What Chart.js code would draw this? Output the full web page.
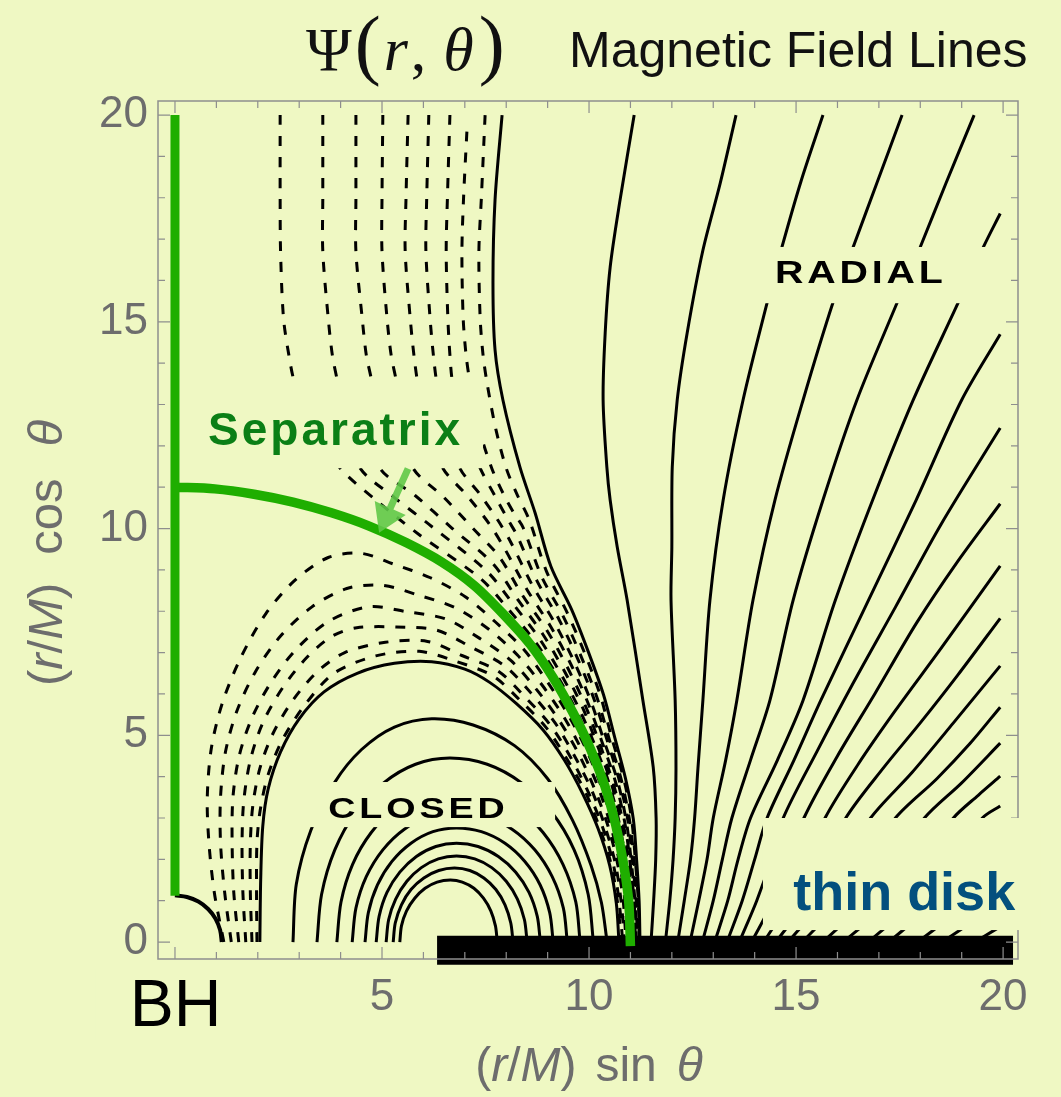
<!DOCTYPE html>
<html>
<head>
<meta charset="utf-8">
<script src="https://cdn.jsdelivr.net/npm/chart.js@4.4.1/dist/chart.umd.min.js"></script>
<style>
  html, body { margin: 0; padding: 0; background: #eff8c3; }
  #wrap { width: 1061px; height: 1097px; }
</style>
</head>
<body>
<div id="wrap"><canvas id="c" width="1061" height="1097"></canvas></div>
<script>
// ---- axis ticks ----
const xTickValues = [0, 5, 10, 15, 20];
const yTickValues = [0, 5, 10, 15, 20];

// ---- separatrix (polar axis + loop), horizon, thin disk ----
const separatrixAxis = [[0, 1.12], [0, 20]];
const separatrixLoop = [[0,11],[0.96,10.96],[1.91,10.83],[2.85,10.64],[3.78,10.38],[4.69,10.06],[5.58,9.66],[6.44,9.19],[7.23,8.62],[7.93,7.93],[8.58,7.2],[9.13,6.4],[9.61,5.55],[10.03,4.68],[10.38,3.78],[10.64,2.85],[10.83,1.91],[10.96,0.96],[11.0,-0.1]];
const horizon = [[0,1.13],[0.29,1.09],[0.565,0.98],[0.8,0.8],[0.98,0.565],[1.09,0.29],[1.13,0]];
const diskSpan = [[6.33,-0.2],[20.24,-0.2]];

// ---- open field lines coming down from the top (dashed) ----
const openDashed = [
  [[2.54,20],[2.54,18],[2.55,16.7],[2.62,15.1],[2.75,14.2],[2.9,13.5],[3.4,12.4],[3.99,11.46],[4.9,10.65],[5.9,9.85],[7.38,8.79],[8.05,8.05],[8.68,7.29],[9.22,6.46],[9.69,5.6],[10.08,4.71],[10.43,3.8],[10.68,2.86],[10.86,1.92],[10.99,0.96],[11.02,0.05]],
  [[3.57,20],[3.57,18],[3.57,16.7],[3.7,15.1],[3.8,14.2],[3.94,13.5],[4.2,12.4],[4.47,11.46],[5.3,10.75],[6.2,10.05],[7.53,8.97],[8.17,8.17],[8.78,7.37],[9.3,6.52],[9.76,5.64],[10.15,4.74],[10.49,3.82],[10.73,2.88],[10.89,1.92],[11.01,0.96],[11.05,0.05]],
  [[4.37,20],[4.37,18],[4.37,16.7],[4.52,15.1],[4.62,14.2],[4.76,13.5],[4.85,12.4],[4.95,11.46],[5.8,10.8],[6.7,10.0],[7.68,9.15],[8.28,8.28],[8.88,7.45],[9.39,6.58],[9.84,5.68],[10.2,4.76],[10.54,3.83],[10.77,2.89],[10.93,1.93],[11.04,0.96],[11.07,0.05]],
  [[5.02,20],[5.0,18],[5.0,16.7],[5.12,15.1],[5.22,14.2],[5.36,13.5],[5.55,12.4],[5.75,11.46],[6.5,10.75],[7.2,10.0],[7.83,9.32],[8.39,8.39],[8.98,7.54],[9.48,6.64],[9.91,5.72],[10.26,4.79],[10.58,3.85],[10.82,2.9],[10.96,1.94],[11.06,0.97],[11.09,0.05]],
  [[5.63,20],[5.58,18],[5.56,16.7],[5.68,15.1],[5.77,14.2],[5.87,13.5],[6.15,12.4],[6.47,11.46],[7.05,10.8],[7.6,10.1],[7.97,9.5],[8.51,8.51],[9.08,7.62],[9.57,6.7],[9.98,5.77],[10.32,4.82],[10.64,3.87],[10.86,2.91],[10.99,1.94],[11.09,0.97],[11.12,0.05]],
  [[6.13,20],[6.08,18],[6.06,16.7],[6.16,15.1],[6.24,14.2],[6.33,13.5],[6.6,12.4],[6.88,11.46],[7.35,10.85],[7.8,10.2],[8.11,9.67],[8.63,8.63],[9.18,7.7],[9.65,6.76],[10.05,5.81],[10.37,4.84],[10.69,3.89],[10.9,2.92],[11.02,1.95],[11.11,0.97],[11.14,0.05]],
  [[6.64,20],[6.58,18],[6.55,16.7],[6.59,15.1],[6.64,14.2],[6.71,13.5],[7.0,12.4],[7.37,11.46],[7.75,10.75],[8.05,10.2],[8.26,9.84],[8.74,8.74],[9.28,7.79],[9.74,6.82],[10.13,5.85],[10.44,4.87],[10.73,3.91],[10.94,2.93],[11.05,1.95],[11.14,0.97],[11.16,0.05]],
  [[7.05,19.6],[6.97,18],[6.93,16.7],[6.96,15.1],[7.03,14.2],[7.13,13.5],[7.35,12.4],[7.65,11.46],[7.95,10.8],[8.2,10.35],[8.41,10.02],[8.85,8.85],[9.38,7.87],[9.82,6.88],[10.2,5.89],[10.49,4.9],[10.78,3.92],[10.98,2.94],[11.09,1.96],[11.16,0.97],[11.18,0.05]],
  [[7.49,20],[7.4,18],[7.34,16.7],[7.37,15.1],[7.44,14.2],[7.54,13.5],[7.75,12.4],[8.0,11.46],[8.25,10.85],[8.56,10.2],[8.97,8.97],[9.48,7.95],[9.91,6.95],[10.28,5.94],[10.55,4.93],[10.84,3.94],[11.03,2.96],[11.12,1.96],[11.19,0.98],[11.21,0.05]]
];

// ---- loops from the horizon region down to the disk (dashed) ----
const loopDashed = [
  [[1.18,0],[0.95,1.2],[0.82,2.4],[0.78,3.5],[0.88,4.7],[1.15,5.8],[1.6,6.9],[2.2,7.95],[2.9,8.75],[3.7,9.3],[4.5,9.4],[5.28,9.14],[6.17,8.81],[7.01,8.35],[7.74,7.74],[8.43,7.07],[8.99,6.3],[9.5,5.49],[9.94,4.64],[10.3,3.75],[10.58,2.83],[10.79,1.91],[10.92,0.95],[10.96,0.05]],
  [[1.36,0],[1.2,1.2],[1.1,2.4],[1.1,3.5],[1.22,4.6],[1.5,5.6],[1.95,6.55],[2.55,7.4],[3.3,8.1],[4.15,8.55],[4.99,8.63],[5.88,8.39],[6.78,8.08],[7.57,7.57],[8.27,6.94],[8.87,6.21],[9.4,5.43],[9.85,4.59],[10.23,3.72],[10.52,2.82],[10.74,1.9],[10.87,0.95],[10.93,0.05]],
  [[1.54,0],[1.42,1.2],[1.38,2.4],[1.4,3.5],[1.55,4.5],[1.85,5.4],[2.3,6.25],[2.9,7.05],[3.7,7.75],[4.69,8.11],[5.59,7.99],[6.55,7.81],[7.35,7.35],[8.11,6.81],[8.73,6.11],[9.28,5.36],[9.75,4.55],[10.14,3.69],[10.46,2.8],[10.69,1.89],[10.83,0.95],[10.89,0.05]],
  [[1.71,0],[1.64,1.2],[1.62,2.4],[1.66,3.4],[1.82,4.4],[2.12,5.3],[2.6,6.15],[3.2,6.9],[3.8,7.4],[4.39,7.6],[5.34,7.62],[6.33,7.54],[7.14,7.14],[7.96,6.68],[8.6,6.02],[9.18,5.3],[9.65,4.5],[10.07,3.66],[10.39,2.78],[10.64,1.88],[10.78,0.94],[10.85,0.05]],
  [[1.86,0],[1.82,1.2],[1.82,2.4],[1.88,3.3],[2.05,4.2],[2.37,5.05],[2.85,5.85],[3.45,6.55],[4.1,7.0],[5.08,7.25],[6.1,7.27],[6.93,6.93],[7.81,6.55],[8.46,5.92],[9.07,5.24],[9.56,4.46],[9.98,3.63],[10.33,2.77],[10.59,1.87],[10.73,0.94],[10.81,0.05]],
  [[1.98,0],[1.97,1.2],[1.98,2.4],[2.06,3.2],[2.25,4.05],[2.6,4.9],[3.15,5.75],[3.84,6.5],[4.85,6.92],[5.9,7.03],[6.75,6.8],[7.67,6.44],[8.34,5.84],[8.97,5.18],[9.47,4.42],[9.92,3.61],[10.26,2.75],[10.54,1.86],[10.69,0.94],[10.78,0.05]]
];

// ---- boundary solid lines on either side of the separatrix ----
const outerBoundary = [[7.9,20],[7.73,17.95],[7.68,15.94],[7.73,14.32],[7.92,13.11],[8.33,11.49],[8.7,10.37],[9.08,9.08],[9.58,8.04],[9.99,7.0],[10.35,5.98],[10.62,4.95],[10.88,3.96],[11.07,2.97],[11.15,1.97],[11.21,0.98],[11.23,0.05]];
const innerBoundary = [[2.05,0],[2.07,1.5],[2.12,2.8],[2.25,3.7],[2.55,4.6],[3.0,5.4],[3.6,6.05],[4.4,6.5],[5.3,6.74],[6.2,6.78],[7.0,6.6],[7.6,6.28],[8.24,5.77],[8.89,5.13],[9.41,4.39],[9.85,3.58],[10.22,2.74],[10.5,1.85],[10.66,0.93],[10.72,0.05]];

// ---- closed loops (solid) ----
const closedLoops = [
  [[2.85,0],[2.93,1.4],[3.28,2.7],[3.85,3.85],[4.5,4.65],[5.3,5.2],[6.2,5.4],[7.2,5.25],[8.2,4.75],[9.0,3.95],[9.6,2.95],[10.05,1.85],[10.3,0.95],[10.43,0.05]],
  [[3.43,0],[3.54,1.15],[3.86,2.23],[4.37,3.15],[5.04,3.85],[5.81,4.3],[6.64,4.45],[7.54,4.3],[8.37,3.85],[9.09,3.15],[9.64,2.23],[9.98,1.15],[10.1,0.05]],
  [[3.91,0],[4.01,0.97],[4.29,1.88],[4.74,2.65],[5.33,3.25],[6.01,3.62],[6.75,3.75],[7.53,3.62],[8.27,3.25],[8.89,2.65],[9.37,1.88],[9.68,0.97],[9.78,0.05]],
  [[4.28,0],[4.37,0.82],[4.62,1.58],[5.02,2.23],[5.54,2.73],[6.15,3.04],[6.8,3.15],[7.49,3.04],[8.14,2.73],[8.69,2.23],[9.11,1.58],[9.38,0.82],[9.47,0.05]],
  [[4.59,0],[4.67,0.71],[4.89,1.38],[5.24,1.95],[5.7,2.39],[6.23,2.67],[6.8,2.76],[7.4,2.67],[7.97,2.39],[8.45,1.95],[8.82,1.38],[9.05,0.71],[9.13,0.05]],
  [[4.86,0],[4.93,0.62],[5.12,1.2],[5.43,1.69],[5.83,2.07],[6.3,2.31],[6.8,2.39],[7.32,2.31],[7.81,2.07],[8.23,1.69],[8.55,1.2],[8.75,0.62],[8.82,0.05]],
  [[5.1,0],[5.16,0.54],[5.33,1.04],[5.6,1.47],[5.95,1.8],[6.36,2.01],[6.8,2.08],[7.24,2.01],[7.65,1.8],[8.0,1.47],[8.27,1.04],[8.44,0.54],[8.5,0.05]],
  [[5.27,0],[5.32,0.46],[5.47,0.9],[5.7,1.27],[6.01,1.55],[6.37,1.73],[6.75,1.79],[7.12,1.73],[7.46,1.55],[7.75,1.27],[7.97,0.9],[8.11,0.46],[8.16,0.05]],
  [[5.43,0],[5.47,0.39],[5.59,0.75],[5.79,1.06],[6.04,1.3],[6.33,1.45],[6.65,1.5],[6.94,1.45],[7.22,1.3],[7.45,1.06],[7.63,0.75],[7.74,0.39],[7.78,0.05]]
];

// ---- radial (open) lines anchored on the disk (solid) ----
const radialLines = [
  [[11.5,0.05],[11.56,1],[11.61,2],[11.62,3],[11.55,4.23],[11.3,5.85],[10.92,8.27],[10.68,9.56],[10.51,10.69],[10.43,11.49],[10.34,13.11],[10.39,14.73],[10.51,16.32],[10.75,17.95],[11.09,20]],
  [[11.85,0.05],[11.95,1],[12.03,2],[12.08,3],[12.1,4.2],[12.08,5.85],[11.98,8.27],[12.0,9.56],[12.01,11.49],[12.13,13.11],[12.37,14.73],[12.75,16.73],[13.17,18.36],[13.55,20]],
  [[12.15,0.05],[12.3,1],[12.45,2],[12.55,3],[12.63,4.2],[12.75,5.85],[12.92,8.27],[13.24,10.69],[13.72,13.11],[14.3,15.46],[14.66,16.81],[15.12,18.4],[15.65,20]],
  [[12.45,0.05],[12.65,1],[12.85,2],[13.0,3],[13.3,4.4],[13.57,5.85],[13.96,8.27],[14.49,10.69],[15.17,13.11],[15.89,15.46],[16.38,16.81],[16.95,18.35],[17.56,20]],
  [[12.75,0.05],[13.0,1],[13.22,2],[13.45,3],[13.9,4.4],[14.37,5.85],[14.93,8.27],[15.65,10.69],[16.47,13.11],[17.44,15.46],[18.0,16.81],[18.62,18.35],[19.3,20]],
  [[13.05,0.05],[13.35,1],[13.6,2],[13.9,3],[14.55,4.4],[15.17,5.85],[15.95,8.27],[16.85,10.69],[17.83,13.11],[18.91,15.45],[19.52,16.8],[19.93,17.62]],
  [[13.35,0.05],[13.7,1],[14.0,2],[14.3,3],[14.95,4.4],[15.6,5.85],[16.75,8.27],[17.9,10.69],[19.0,13.11],[19.93,14.7]],
  [[13.65,0.05],[14.05,1],[14.4,2],[14.69,3],[15.5,4.6],[16.4,6.3],[17.4,8.1],[18.5,10.1],[19.93,12.43]],
  [[13.95,0.05],[14.45,1],[14.85,2],[15.19,3],[16.0,4.5],[16.9,6.0],[17.9,7.7],[18.9,9.2],[19.93,10.6]],
  [[14.25,0.05],[14.85,1],[15.3,2],[15.7,3],[16.5,4.3],[17.4,5.6],[18.5,7.1],[19.93,9.1]],
  [[14.55,0.05],[15.25,1],[15.75,2],[16.2,3],[17.1,4.2],[18.0,5.3],[18.9,6.45],[19.93,7.83]],
  [[14.85,0.05],[15.65,1],[16.25,2],[16.8,3],[17.8,4.1],[18.8,5.3],[19.93,6.68]],
  [[15.2,0.05],[16.1,1],[16.8,2],[17.4,3],[18.4,3.95],[19.2,4.8],[19.93,5.68]],
  [[15.7,0.05],[16.7,1],[17.45,2],[18.1,3],[19.0,3.85],[19.93,4.81]],
  [[16.2,0.05],[17.3,1],[18.1,2],[18.8,3],[19.4,3.55],[19.93,4.01]],
  [[16.8,0.05],[17.9,1],[18.8,2],[19.5,3],[19.93,3.29]],
  [[17.3,0.05],[18.3,0.9],[19.3,1.8],[20.3,2.6]],
  [[18.0,0.05],[19.0,0.8],[20.3,1.7]],
  [[18.6,0.05],[19.5,0.65],[20.3,1.15]],
  [[19.4,0.05],[20.3,0.6]]
];

// ---- styling ----
const BG = '#eff8c3';
const GREEN = '#1fae00';
const GREY = '#6d6d6d';
const SANS = '"Liberation Sans", Arial, sans-serif';
const SERIF = '"Liberation Serif", "DejaVu Serif", serif';

const toXY = pts => pts.map(p => ({ x: p[0], y: p[1] }));
function line(pts, extra) {
  return Object.assign({
    data: toXY(pts), showLine: true, pointRadius: 0, borderColor: '#000',
    borderWidth: 3, fill: false, tension: 0.3, order: 3
  }, extra || {});
}

const datasets = [];
datasets.push(line(separatrixAxis, { borderColor: GREEN, borderWidth: 9, tension: 0, order: 0, borderCapStyle: 'butt' }));
datasets.push(line(separatrixLoop, { borderColor: GREEN, borderWidth: 9.5, order: 0, borderCapStyle: 'butt' }));
datasets.push(line(diskSpan, { borderWidth: 29, tension: 0, order: 1, borderCapStyle: 'butt', clip: false }));
datasets.push(line(horizon, { borderWidth: 4, order: 2 }));
openDashed.forEach(p => datasets.push(line(p, { borderDash: [10, 11], borderWidth: 3 })));
loopDashed.forEach(p => datasets.push(line(p, { borderDash: [10, 11], borderWidth: 3 })));
datasets.push(line(outerBoundary));
datasets.push(line(innerBoundary));
closedLoops.forEach(p => datasets.push(line(p)));
radialLines.forEach(p => datasets.push(line(p)));

// text made of differently styled pieces
function runsWidth(ctx, runs) {
  let w = 0;
  runs.forEach(r => { ctx.font = r.f; w += ctx.measureText(r.t).width + (r.gap || 0); });
  return w;
}
function drawRuns(ctx, runs, x, y) {
  runs.forEach(r => { ctx.font = r.f; ctx.fillText(r.t, x, y); x += ctx.measureText(r.t).width + (r.gap || 0); });
}
// wide caps lettering for the region names
function wideText(ctx, text, x, y, size, stretch, spacing) {
  ctx.save();
  ctx.translate(x, y);
  ctx.scale(stretch, 1);
  ctx.font = 'bold ' + size + 'px ' + SANS;
  ctx.letterSpacing = spacing + 'px';
  ctx.fillText(text, 0, 0);
  ctx.restore();
}

const decor = {
  id: 'decor',
  beforeDraw(chart) {
    const c = chart.ctx;
    c.save(); c.fillStyle = BG; c.fillRect(0, 0, chart.width, chart.height); c.restore();
  },
  afterDatasetsDraw(chart) {
    const { ctx, chartArea: a, scales: { x, y } } = chart;
    const X = v => x.getPixelForValue(v), Y = v => y.getPixelForValue(v);
    ctx.save();

    // frame with inward ticks
    ctx.strokeStyle = '#8e8e8e'; ctx.lineWidth = 1.5;
    ctx.strokeRect(a.left, a.top, a.right - a.left, a.bottom - a.top);
    ctx.lineWidth = 1.2;
    ctx.beginPath();
    for (let v = 0; v <= 20; v++) {
      const L = v % 5 === 0 ? 12 : 7;
      const px = X(v), py = Y(v);
      ctx.moveTo(px, a.bottom); ctx.lineTo(px, a.bottom - L);
      ctx.moveTo(px, a.top); ctx.lineTo(px, a.top + L);
      ctx.moveTo(a.left, py); ctx.lineTo(a.left + L, py);
      ctx.moveTo(a.right, py); ctx.lineTo(a.right - L, py);
    }
    ctx.stroke();

    // label panels
    const panel = (x0, x1, y0, y1) => {
      ctx.fillStyle = BG;
      ctx.fillRect(X(x0), Y(y1), X(x1) - X(x0), Y(y0) - Y(y1));
    };
    panel(0.85, 7.44, 11.46, 13.52);    // Separatrix
    panel(13.24, 19.73, 15.45, 16.81);  // RADIAL
    panel(2.56, 9.18, 2.78, 3.87);      // CLOSED
    panel(14.2, 20.9, 0.29, 3.0);       // thin disk
    panel(-1.93, 1.81, -2.37, -0.63);   // BH

    ctx.textBaseline = 'alphabetic';
    ctx.textAlign = 'left';

    ctx.fillStyle = '#0b7f16';
    ctx.font = 'bold 46px ' + SANS;
    ctx.letterSpacing = '3px';
    ctx.fillText('Separatrix', X(0.80), Y(12.02));
    ctx.letterSpacing = '0px';

    ctx.fillStyle = '#000';
    wideText(ctx, 'RADIAL', X(14.49), Y(15.94), 31, 1.27, 3);
    wideText(ctx, 'CLOSED', X(3.70), Y(3.0), 29, 1.3, 3);

    ctx.fillStyle = '#03507e';
    ctx.font = 'bold 54px ' + SANS;
    ctx.fillText('thin disk', X(14.93), Y(0.77));

    ctx.fillStyle = '#000';
    ctx.font = '66px ' + SANS;
    ctx.fillText('BH', X(-1.09), Y(-2.03));

    // arrow pointing at the separatrix
    const tx = X(5.63), ty = Y(11.45), hx = X(4.93), hy = Y(9.9);
    const dx = hx - tx, dy = hy - ty, len = Math.hypot(dx, dy);
    const ux = dx / len, uy = dy / len, nx = -uy, ny = ux;
    const headL = 27, headW = 17, shaftW = 7;
    const bx = hx - ux * headL, by = hy - uy * headL;
    ctx.fillStyle = 'rgba(96,200,72,0.9)';
    ctx.beginPath();
    ctx.moveTo(tx + nx * shaftW / 2, ty + ny * shaftW / 2);
    ctx.lineTo(bx + nx * shaftW / 2, by + ny * shaftW / 2);
    ctx.lineTo(bx + nx * headW, by + ny * headW);
    ctx.lineTo(hx, hy);
    ctx.lineTo(bx - nx * headW, by - ny * headW);
    ctx.lineTo(bx - nx * shaftW / 2, by - ny * shaftW / 2);
    ctx.lineTo(tx - nx * shaftW / 2, ty - ny * shaftW / 2);
    ctx.closePath();
    ctx.fill();

    // title
    ctx.fillStyle = '#111';
    drawRuns(ctx, [
      { t: 'Ψ', f: '62px ' + SERIF, gap: 3 },
      { t: '(', f: '78px ' + SERIF, gap: 3 },
      { t: 'r', f: 'italic 62px ' + SERIF, gap: 3 },
      { t: ',', f: '62px ' + SERIF, gap: 17 },
      { t: 'θ', f: 'italic 62px ' + SERIF, gap: 5 },
      { t: ')', f: '78px ' + SERIF }
    ], 306, 70);
    ctx.font = '50px ' + SANS;
    ctx.fillText('Magnetic Field Lines', 569, 67);

    // axis titles
    ctx.fillStyle = GREY;
    const f = '48px ' + SANS, fi = 'italic 48px ' + SANS;
    const xt = [
      { t: '(', f: f }, { t: 'r', f: fi }, { t: '/', f: f }, { t: 'M', f: fi },
      { t: ')', f: f, gap: 19 }, { t: 'sin', f: f, gap: 20 }, { t: 'θ', f: fi }
    ];
    const wx = runsWidth(ctx, xt);
    drawRuns(ctx, xt, 589 - wx / 2, 1081);

    const fy = '49px ' + SANS, fyi = 'italic 49px ' + SANS;
    const yt = [
      { t: '(', f: fy }, { t: 'r', f: fyi }, { t: '/', f: fy }, { t: 'M', f: fyi },
      { t: ')', f: fy, gap: 28 }, { t: 'cos', f: fy, gap: 32 }, { t: 'θ', f: fyi }
    ];
    const wy = runsWidth(ctx, yt);
    ctx.translate(62, 553);
    ctx.rotate(-Math.PI / 2);
    drawRuns(ctx, yt, -wy / 2, 0);
    ctx.restore();
  }
};

new Chart(document.getElementById('c'), {
  type: 'scatter',
  data: { datasets },
  options: {
    responsive: false,
    animation: false,
    events: [],
    layout: { padding: { top: 101, right: 43, left: 0, bottom: 0 } },
    plugins: { legend: { display: false }, tooltip: { enabled: false }, title: { display: false } },
    scales: {
      x: {
        type: 'linear', min: -0.41, max: 20.36,
        grid: { display: false, drawTicks: false }, border: { display: false },
        ticks: { font: { family: SANS, size: 44 }, color: GREY, padding: 12, maxRotation: 0, autoSkip: false, includeBounds: false },
        afterBuildTicks: s => { s.ticks = xTickValues.map(v => ({ value: v })); },
        afterFit: s => { s.height = 138; }
      },
      y: {
        type: 'linear', min: -0.41, max: 20.34,
        grid: { display: false, drawTicks: false }, border: { display: false },
        ticks: { font: { family: SANS, size: 44 }, color: GREY, padding: 10, autoSkip: false, includeBounds: false },
        afterBuildTicks: s => { s.ticks = yTickValues.map(v => ({ value: v })); },
        afterFit: s => { s.width = 158; }
      }
    }
  },
  plugins: [decor]
});
</script>
</body>
</html>
